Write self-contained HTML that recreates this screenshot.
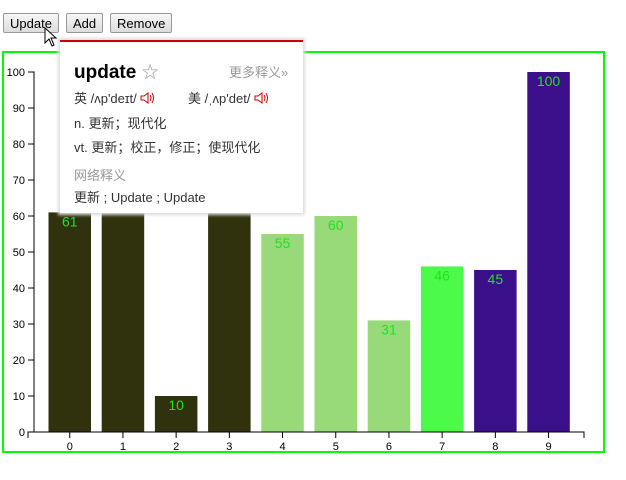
<!DOCTYPE html>
<html><head><meta charset="utf-8"><style>
body{margin:0;width:626px;height:480px;background:#fff;position:relative;overflow:hidden;font-family:"Liberation Sans",sans-serif}
button{position:absolute;top:13px;height:20px;font:13px "Liberation Sans",sans-serif;background:linear-gradient(#f6f6f6,#dcdcdc);border:1px solid #999;border-radius:2px;padding:0 6px}
#tip{position:absolute;left:60px;top:40px;width:243px;height:171px;background:#fff;border-top:2px solid #c00;box-shadow:0 0 3px 2px #ddd;font-family:"Liberation Sans","Noto Sans CJK SC",sans-serif;color:#333;font-size:13px}
#tip div{position:absolute;white-space:nowrap}
.spk{display:inline-block;vertical-align:-2px}
</style></head><body>
<button style="left:3px">Update</button>
<button style="left:66px">Add</button>
<button style="left:110px">Remove</button>
<svg width="626" height="480" style="position:absolute;left:0;top:0">
<rect x="3" y="52" width="601" height="400" fill="none" stroke="#00ff00" stroke-width="2"/>
<g id="g"></g>
</svg>
<div id="tip">
<div style="left:14px;top:16px;font-size:19px;font-weight:bold;color:#000">update <span style="font-weight:normal;color:#999;font-size:17px">☆</span></div>
<div style="left:169px;top:20px;color:#999">更多释义»</div>
<div style="left:14px;top:46px">英 /ʌp'deɪt/ <svg class="spk" width="16" height="14"><path d="M1 5H4L8 2V12L4 9H1Z" fill="none" stroke="#c00"/><path d="M10 4Q12 7 10 10M12 2Q15 7 12 12" fill="none" stroke="#c00"/></svg></div>
<div style="left:128px;top:46px">美 /ˌʌp'det/ <svg class="spk" width="16" height="14"><path d="M1 5H4L8 2V12L4 9H1Z" fill="none" stroke="#c00"/><path d="M10 4Q12 7 10 10M12 2Q15 7 12 12" fill="none" stroke="#c00"/></svg></div>
<div style="left:14px;top:71px">n. 更新；现代化</div>
<div style="left:14px;top:95px">vt. 更新；校正，修正；使现代化</div>
<div style="left:14px;top:123px;color:#999">网络释义</div>
<div style="left:14px;top:145px">更新 ; Update ; Update</div>
</div>
<svg width="20" height="24" style="position:absolute;left:44px;top:27px"><path d="M1 1 L1 16 L5 12 L8 19 L10 18 L7 11 L12 11 Z" fill="#fff" stroke="#000"/></svg>
<script>
const categories=[0,1,2,3,4,5,6,7,8,9];
const values=[61,66,10,72,55,60,31,46,45,100];
const colors=["#2f320c","#2f320c","#2f320c","#2f320c","#98d97a","#98d97a","#98d97a","#4cfa4a","#3b0f8a","#3b0f8a"];
const yTicks=[0,10,20,30,40,50,60,70,80,90,100];
const NS="http://www.w3.org/2000/svg",g=document.getElementById('g');
const x0=34,x1=584,y0=432,y1=72,step=53.2,bw=42.5,first=48.5;
const x=i=>first+i*step, y=v=>y0-(v/100)*(y0-y1);
function mk(t,a,p){const e=document.createElementNS(NS,t);for(const k in a)e.setAttribute(k,a[k]);(p||g).appendChild(e);return e;}
categories.forEach((c,i)=>{
 const r=mk('rect',{x:x(i),y:y(values[i]),width:bw,height:y0-y(values[i]),fill:colors[i]});
 
 
 const t=mk('text',{x:x(i)+bw/2,y:y(values[i])+14,'text-anchor':'middle','font-size':14,fill:'#22e022'});
 t.textContent=values[i];
 
 
 mk('line',{x1:x(i)+bw/2,x2:x(i)+bw/2,y1:y0,y2:y0+6,stroke:'#000'});
 const l=mk('text',{x:x(i)+bw/2,y:y0+18,'text-anchor':'middle','font-size':11});
 l.textContent=c;
 
 
});
mk('path',{d:`M${x0-6},${y0+6}V${y0}H${x1}V${y0+6}`,fill:'none',stroke:'#000'});
mk('path',{d:`M${x0-6},${y1}H${x0}V${y0}H${x0-6}`,fill:'none',stroke:'#000'});
yTicks.forEach(v=>{
 mk('line',{x1:x0-6,x2:x0,y1:y(v),y2:y(v),stroke:'#000'});
 const t=mk('text',{x:x0-9,y:y(v)+4,'text-anchor':'end','font-size':11});
 t.textContent=v;
 
 
});
</script>
</body></html>
